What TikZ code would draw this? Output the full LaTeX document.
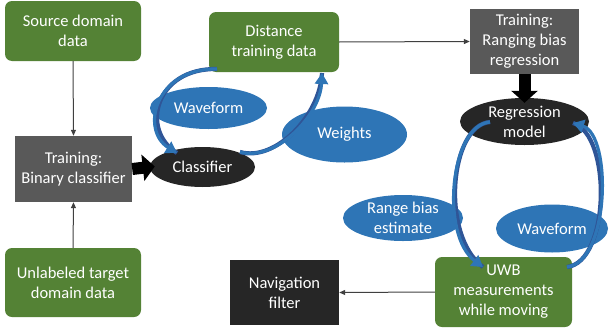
\documentclass[tikz,border=0pt]{standalone}
\usepackage{fontspec}
\setmainfont{Carlito}
\usetikzlibrary{arrows.meta,shapes.geometric}
\definecolor{pgreen}{HTML}{548235}
\definecolor{pgray}{HTML}{595959}
\definecolor{pblack}{HTML}{262626}
\definecolor{pblue}{HTML}{2E75B6}
\definecolor{pblueedge}{HTML}{2F5597}
\definecolor{plink}{HTML}{404040}
\tikzset{
  every node/.style={font=\fontsize{16.5}{20}\selectfont, text=white, align=center, inner sep=0pt},
  greenbox/.style={rectangle, rounded corners=7pt, fill=pgreen},
  graybox/.style={rectangle, fill=pgray},
  darkbox/.style={rectangle, fill=pblack},
  darkell/.style={ellipse, fill=pblack},
  blueell/.style={ellipse, fill=pblue},
  thinlink/.style={draw=plink, line width=1pt, -{Triangle[length=6pt,width=5pt]}},
  blocklink/.style={draw=black, line width=12pt, -{Triangle[length=12pt,width=26pt]}, shorten >=-5pt},
  bluelink/.style={draw=pblue, line width=3.2pt, -{Triangle[length=11pt,width=13pt]},
     preaction={draw=pblueedge, line width=4.2pt, -{}}}
}
\begin{document}
\begin{tikzpicture}[x=1pt,y=-1pt]
\useasboundingbox (0,0) rectangle (609,332);
% boxes
\node[greenbox, minimum width=136, minimum height=60] (src) at (73,31) {Source domain\\data};
\node[greenbox, minimum width=130, minimum height=60] (dist) at (274,42) {Distance\\training data};
\node[graybox, minimum width=109, minimum height=65] (rng) at (524.5,41.5) {Training:\\Ranging bias\\regression};
\node[graybox, minimum width=117, minimum height=66] (bin) at (73.5,169) {Training:\\Binary classifier};
\node[greenbox, minimum width=136, minimum height=69] (unl) at (73,282.5) {Unlabeled target\\domain data};
\node[darkbox, minimum width=109, minimum height=65] (nav) at (284.5,292.5) {Navigation\\filter};
\node[greenbox, minimum width=137, minimum height=70] (uwb) at (503.5,292) {UWB\\measurements\\while moving};
% ellipses
\node[darkell, minimum width=105, minimum height=40] (cls) at (202.5,167) {Classifier};
\node[darkell, minimum width=129, minimum height=47] (reg) at (524.5,121.5) {Regression\\model};
\node[blueell, minimum width=117, minimum height=42] (wave1) at (208.5,108) {Waveform};
\node[blueell, minimum width=125, minimum height=56] (wts) at (344.5,134.5) {Weights};
\node[blueell, minimum width=120, minimum height=46] (rbe) at (403,218) {Range bias\\estimate};
\node[blueell, minimum width=112, minimum height=48] (wave2) at (552,228.5) {Waveform};
% thin connectors
\draw[thinlink] (src.south) -- (bin.north);
\draw[thinlink] (unl.north) -- (bin.south);
\draw[thinlink] (dist.east) -- (rng.west);
\draw[thinlink] (uwb.west) -- (nav.east);
% block arrows
\draw[blocklink] (bin.east) -- (cls.west);
\draw[blocklink] (rng.south) -- (reg.north);
% blue curved arrows
\draw[bluelink] ([shift={(-57,27)}]dist.center) .. controls +(-62,-1) and +(-37,-23) .. ([shift={(-25.5,-14)}]cls.center);
\draw[bluelink] ([shift={(37.5,-15)}]cls.center) .. controls +(35,10) and +(-2,43) .. ([shift={(48,31)}]dist.center);
\draw[bluelink] ([shift={(-34.5,0.5)}]reg.center) .. controls +(-40,3) and +(-43,-32) .. ([shift={(-20.5,-25)}]uwb.center);
\draw[bluelink] ([shift={(63.5,-25)}]uwb.center) .. controls +(43,-5) and +(39,12) .. ([shift={(48.5,1.5)}]reg.center);
\end{tikzpicture}
\end{document}
